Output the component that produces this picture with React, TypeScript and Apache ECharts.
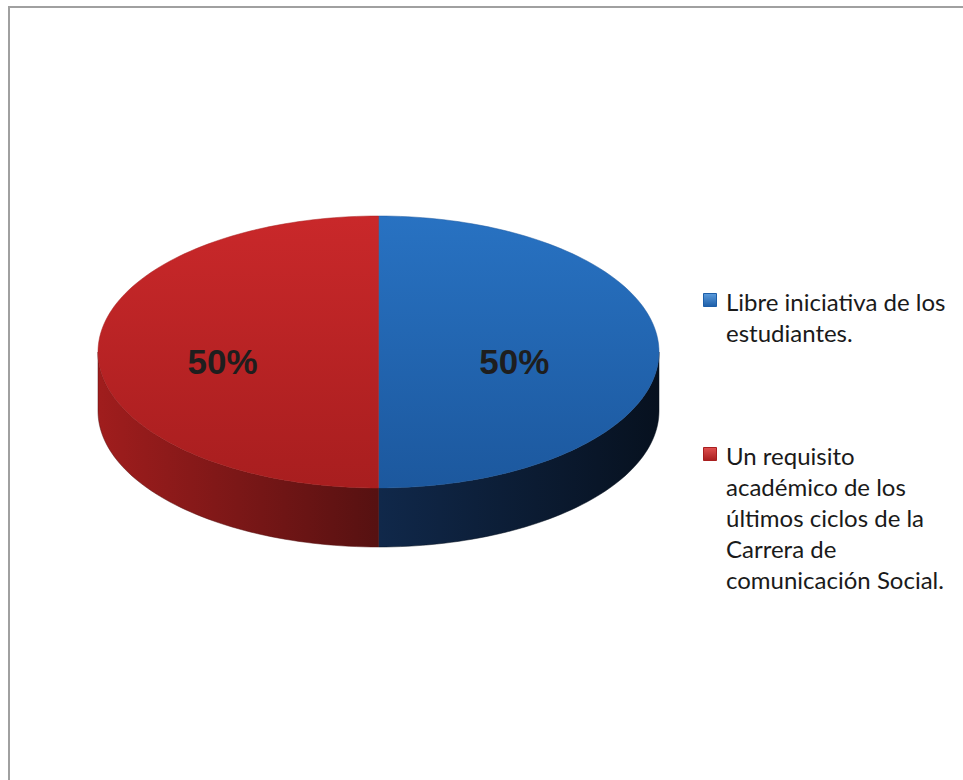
import React, { useEffect, useRef } from "react";
import * as echarts from "echarts";

const categories = [
  "Libre iniciativa de los estudiantes.",
  "Un requisito académico de los últimos ciclos de la Carrera de comunicación Social.",
];
const values = [50, 50];
const legendLines = [
  ["Libre iniciativa de los", "estudiantes."],
  ["Un requisito", "académico de los", "últimos ciclos de la", "Carrera de", "comunicación Social."],
];
const topColors = [
  ["#2872c2", "#1c589e"],
  ["#c9282a", "#a81e1f"],
];
const sideColors = [
  ["#10284a", "#07111f"],
  ["#a01d1d", "#561111"],
];
const iconColors = [
  ["#5b9bdc", "#1d5ea8"],
  ["#e0504f", "#a81e1f"],
];

const CX = 378.5;
const CY = 352;
const RX = 280.5;
const RY = 136;
const DEPTH = 59;

function ellPt(a: number, dy = 0): number[] {
  return [CX + RX * Math.cos(a), CY + RY * Math.sin(a) + dy];
}

function arcPts(a0: number, a1: number, dy = 0): number[][] {
  const n = Math.max(8, Math.ceil(((a1 - a0) / (2 * Math.PI)) * 240));
  const pts: number[][] = [];
  for (let k = 0; k <= n; k++) pts.push(ellPt(a0 + ((a1 - a0) * k) / n, dy));
  return pts;
}

export default function App() {
  const ref = useRef<HTMLDivElement>(null);
  useEffect(() => {
    if (!ref.current) return;
    const chart = echarts.init(ref.current, undefined, { renderer: "svg" });
    const total = values.reduce((s, v) => s + v, 0);

    const series = categories.map((name, i) => ({
      type: "custom",
      name,
      coordinateSystem: "none",
      data: [[values[i]]],
      renderItem: (params: any, api: any) => {
        const idx = params.seriesIndex;
        const v = api.value(0);
        let before = 0;
        for (let k = 0; k < idx; k++) before += values[k];
        const a0 = -Math.PI / 2 + (2 * Math.PI * before) / total;
        const a1 = a0 + (2 * Math.PI * v) / total;
        const children: any[] = [];
        for (let k = -1; k <= 1; k++) {
          const s = Math.max(a0, 2 * Math.PI * k);
          const e = Math.min(a1, Math.PI + 2 * Math.PI * k);
          if (e > s) {
            const up = arcPts(s, e);
            const down = arcPts(s, e, DEPTH).reverse();
            children.push({
              type: "polygon",
              shape: { points: up.concat(down) },
              style: {
                fill: new echarts.graphic.LinearGradient(0, 0, 1, 0, [
                  { offset: 0, color: sideColors[idx][0] },
                  { offset: 1, color: sideColors[idx][1] },
                ]),
                stroke: sideColors[idx][1],
                lineWidth: 0.5,
              },
              z2: 1,
            });
          }
        }
        children.push({
          type: "polygon",
          shape: { points: [[CX, CY]].concat(arcPts(a0, a1)) },
          style: {
            fill: new echarts.graphic.LinearGradient(0, 0, 0, 1, [
              { offset: 0, color: topColors[idx][0] },
              { offset: 1, color: topColors[idx][1] },
            ]),
            stroke: topColors[idx][1],
            lineWidth: 0.5,
          },
          z2: 2,
        });
        const mid = (a0 + a1) / 2;
        const lp = [CX + RX * 0.52 * Math.cos(mid) - 10, CY + RY * 0.52 * Math.sin(mid) + 9];
        children.push({
          type: "text",
          x: lp[0],
          y: lp[1],
          style: {
            text: Math.round((v / total) * 100) + "%",
            fill: "#1e1e1e",
            font: "bold 35px 'Liberation Sans', Arial, sans-serif",
            align: "center",
            verticalAlign: "middle",
          },
          z2: 3,
        });
        return { type: "group", children };
      },
    }));

    const legendTops = [286, 440];
    const graphic: any[] = [
      {
        type: "rect",
        shape: { x: 9, y: 7, width: 1100, height: 1000 },
        style: { fill: "#fff", stroke: "#a0a0a0", lineWidth: 2 },
        z: -10,
      },
    ];
    legendLines.forEach((lines, i) => {
      graphic.push({
        type: "rect",
        shape: { x: 703.5, y: legendTops[i] + 7.5, width: 13, height: 13 },
        style: {
          fill: new echarts.graphic.LinearGradient(0, 0, 0, 1, [
            { offset: 0, color: iconColors[i][0] },
            { offset: 1, color: iconColors[i][1] },
          ]),
          stroke: iconColors[i][1],
          lineWidth: 1,
        },
      });
      graphic.push({
        type: "text",
        x: 726,
        y: legendTops[i],
        style: {
          text: lines.join("\n"),
          font: "24px Lato, 'Open Sans', sans-serif",
          lineHeight: 31,
          fill: "#1a1a1a",
          verticalAlign: "top",
        },
      });
    });

    chart.setOption({
      animation: false,
      backgroundColor: "#ffffff",
      graphic,
      series,
    });
    return () => chart.dispose();
  }, []);
  return (
    <div
      ref={ref}
      style={{ position: "fixed", left: 0, top: 0, width: 963, height: 780 }}
    />
  );
}
